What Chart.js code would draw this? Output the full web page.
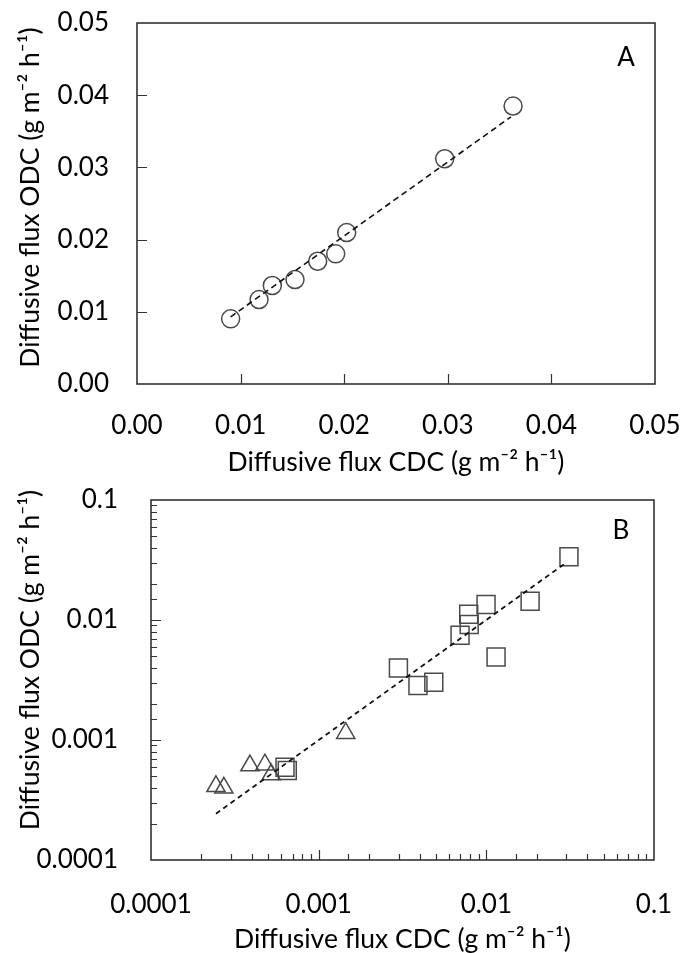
<!DOCTYPE html>
<html>
<head>
<meta charset="utf-8">
<script src="https://cdn.jsdelivr.net/npm/chart.js@4.4.1/dist/chart.umd.min.js"></script>
<style>
html,body{margin:0;padding:0;background:#fff;}
body{width:680px;height:953px;position:relative;overflow:hidden;}
canvas{position:absolute;left:0;}
#chartA{top:0;}
#chartB{top:476px;}
</style>
</head>
<body>
<canvas id="chartA" width="680" height="480"></canvas>
<canvas id="chartB" width="680" height="480"></canvas>
<script>
// panel A - linear axes
const cdcA = [0.00904, 0.01178, 0.01306, 0.01525, 0.01744, 0.01918, 0.02024, 0.0297, 0.0363];
const odcA = [0.00903, 0.0117, 0.01364, 0.01447, 0.0170, 0.01803, 0.02098, 0.0312, 0.0385];
const fitA_x = [0.00904, 0.0361];
const fitA_y = [0.0093, 0.0370];
const ticksA = [0, 0.01, 0.02, 0.03, 0.04, 0.05];

// panel B - log axes
const cdcSquares = [0.0311, 0.01824, 0.00996, 0.00785, 0.0079, 0.00697, 0.01143, 0.00299, 0.00391, 0.00486, 0.00063, 0.00065];
const odcSquares = [0.0337, 0.01435, 0.01346, 0.01116, 0.00917, 0.00746, 0.00492, 0.00398, 0.00284, 0.00303, 0.000594, 0.000557];
const cdcTriangles = [0.00145, 0.000389, 0.000478, 0.000521, 0.000244, 0.000272];
const odcTriangles = [0.00114, 0.000612, 0.000623, 0.000515, 0.000411, 0.0004];
const fitB_x = [0.000244, 0.0299];
const fitB_y = [0.000243, 0.0300];
const ticksB = [0.0001, 0.001, 0.01, 0.1];

const xTitle = "Diffusive flux CDC (g m\u207B\u00B2 h\u207B\u00B9)";
const yTitle = "Diffusive flux ODC (g m\u207B\u00B2 h\u207B\u00B9)";

const FONT = "Lato, 'Open Sans', sans-serif";
const INK = "#000";
const MARK = "#4a4a4a";

function pts(xs, ys){ return xs.map((x,i)=>({x, y:ys[i]})); }
function isDecade(v){
  const l = Math.log10(v);
  return Math.abs(l - Math.round(l)) < 1e-6;
}

// box round the plot, inward tick marks and the panel letter
const frameTicks = {
  id:"frameTicks",
  beforeDraw(chart, args, opts){
    // excel puts the y title a bit above the middle of the axis
    const y = chart.scales.y;
    y.top -= opts.yTitleShift; y.bottom -= opts.yTitleShift;
  },
  afterDraw(chart, args, opts){
    const y = chart.scales.y;
    y.top += opts.yTitleShift; y.bottom += opts.yTitleShift;
  },
  afterDatasetsDraw(chart, args, opts){
    const {ctx, chartArea:a, scales:{x, y}} = chart;
    ctx.save();
    ctx.strokeStyle = "#333";
    ctx.lineWidth = 1.2;
    ctx.beginPath();
    for(const t of x.ticks){
      const px = Math.round(x.getPixelForValue(t.value)) + 0.5;
      if(px <= a.left + 2 || px >= a.right - 2) continue;
      const len = (opts.log && !isDecade(t.value)) ? 6 : 10;
      ctx.moveTo(px, a.bottom); ctx.lineTo(px, a.bottom - len);
    }
    for(const t of y.ticks){
      const py = Math.round(y.getPixelForValue(t.value)) + 0.5;
      if(py <= a.top + 2 || py >= a.bottom - 2) continue;
      const len = (opts.log && !isDecade(t.value)) ? 6 : 10;
      ctx.moveTo(a.left, py); ctx.lineTo(a.left + len, py);
    }
    ctx.stroke();
    ctx.lineWidth = 1.6;
    ctx.strokeRect(a.left, a.top, a.right - a.left, a.bottom - a.top);
    ctx.fillStyle = INK;
    ctx.font = "26px " + FONT;
    ctx.textAlign = "center";
    ctx.textBaseline = "middle";
    ctx.fillText(opts.letter, a.right - opts.dx, a.top + opts.dy);
    ctx.restore();
  }
};

function scaleFit(width, height){
  return function(scale){
    if(scale.isHorizontal()){
      scale.height = height;
      scale.paddingLeft = 0; scale.paddingRight = 0;
    }else{
      scale.width = width;
      scale.paddingTop = 0; scale.paddingBottom = 0;
    }
  };
}

function axis(type, min, max, fmt, fit, titlePad, tickPad){
  return {
    type, min, max,
    grid:{ display:false, drawTicks:false },
    border:{ display:false },
    afterFit: fit,
    afterBuildTicks: type === "logarithmic" ? undefined : (s) => {
      s.ticks = ticksA.map(v => ({ value:v }));
    },
    ticks:{
      autoSkip:false,
      maxRotation:0,
      padding: tickPad,
      color: INK,
      font:{ family:FONT, size:26 },
      callback: fmt
    },
    title:{
      display:true,
      color: INK,
      font:{ family:FONT, size:26.5 },
      padding: titlePad
    }
  };
}

const fmtA = (v) => Number(v).toFixed(2);
const fmtB = (v) => (isDecade(v) && ticksB.some(t => Math.abs(t - v) / t < 1e-6)) ? String(Number(v.toPrecision(1))) : "";

// chart A
const xA = axis("linear", 0, 0.05, fmtA, scaleFit(137, 96), { bottom:2 }, 26);
xA.title.text = xTitle;
const yA = axis("linear", 0, 0.05, fmtA, scaleFit(137, 96), { top:15 }, 28);
yA.title.text = yTitle;

new Chart(document.getElementById("chartA"), {
  type:"scatter",
  data:{ datasets:[
    { data: pts(fitA_x, fitA_y), showLine:true, pointRadius:0, borderColor:"#111",
      borderWidth:1.6, borderDash:[6,4], fill:false },
    { data: pts(cdcA, odcA), pointStyle:"circle", pointRadius:9, pointBorderWidth:1.5,
      pointBorderColor:MARK, pointBackgroundColor:"rgba(0,0,0,0)" }
  ]},
  options:{
    responsive:false,
    animation:false,
    layout:{ padding:{ top:23, right:25, left:0, bottom:0 } },
    plugins:{ legend:{ display:false }, tooltip:{ enabled:false },
      frameTicks:{ letter:"A", dx:29, dy:35, log:false, yTitleShift:6 } },
    scales:{ x:xA, y:yA }
  },
  plugins:[frameTicks]
});

// chart B
const xB = axis("logarithmic", 0.0001, 0.1, fmtB, scaleFit(151, 96), { bottom:1 }, 29);
xB.title.text = xTitle;
const yB = axis("logarithmic", 0.0001, 0.1, fmtB, scaleFit(151, 96), { top:15 }, 33);
yB.title.text = yTitle;

new Chart(document.getElementById("chartB"), {
  type:"scatter",
  data:{ datasets:[
    { data: pts(fitB_x, fitB_y), showLine:true, pointRadius:0, borderColor:"#111",
      borderWidth:1.8, borderDash:[5,4], fill:false },
    { data: pts(cdcSquares, odcSquares), pointStyle:"rect", pointRadius:12.7, pointBorderWidth:1.5,
      pointBorderColor:MARK, pointBackgroundColor:"rgba(0,0,0,0)" },
    { data: pts(cdcTriangles, odcTriangles), pointStyle:"triangle", pointRadius:10.5, pointBorderWidth:1.5,
      pointBorderColor:MARK, pointBackgroundColor:"rgba(0,0,0,0)" }
  ]},
  options:{
    responsive:false,
    animation:false,
    layout:{ padding:{ top:24, right:26, left:0, bottom:0 } },
    plugins:{ legend:{ display:false }, tooltip:{ enabled:false },
      frameTicks:{ letter:"B", dx:33, dy:31, log:true, yTitleShift:20 } },
    scales:{ x:xB, y:yB }
  },
  plugins:[frameTicks]
});
</script>
</body>
</html>
